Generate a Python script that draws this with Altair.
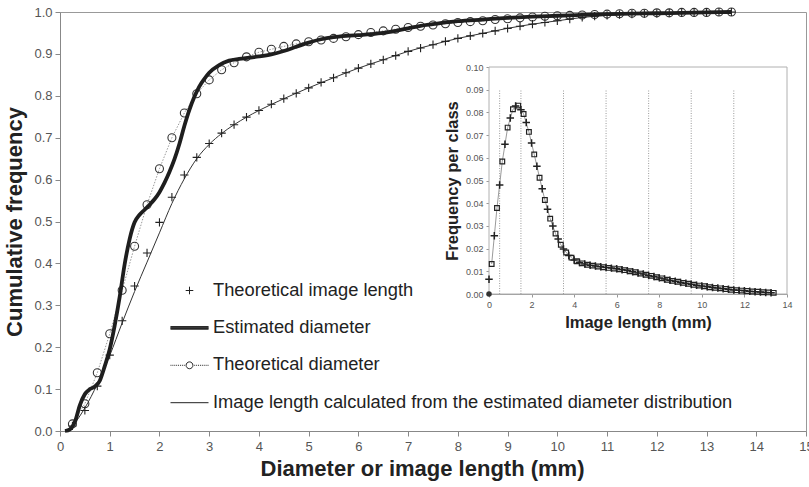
import altair as alt
import pandas as pd

FONT = "Liberation Sans"

# ---------------- main chart data ----------------
grid_x = [round(0.25 * k, 2) for k in range(1, 55)]  # 0.25 .. 13.5

theo_diam_y = [0.017, 0.065, 0.139, 0.232, 0.336, 0.441, 0.540, 0.626, 0.700, 0.759,
               0.805, 0.838, 0.862, 0.879, 0.893, 0.904, 0.911, 0.918, 0.924, 0.929,
               0.933, 0.937, 0.941, 0.946, 0.951, 0.955, 0.959, 0.963, 0.966, 0.969,
               0.972, 0.975, 0.977, 0.979, 0.982, 0.984, 0.986, 0.988, 0.990, 0.991,
               0.992, 0.993, 0.994, 0.995, 0.996, 0.997, 0.997, 0.998, 0.998, 0.999,
               0.999, 0.999, 1.000, 1.000]

theo_len_y = [0.012, 0.049, 0.107, 0.181, 0.263, 0.346, 0.425, 0.498, 0.558, 0.611,
              0.653, 0.686, 0.711, 0.731, 0.749, 0.765, 0.780, 0.793, 0.806, 0.819,
              0.832, 0.843, 0.855, 0.866, 0.876, 0.886, 0.896, 0.906, 0.914, 0.922,
              0.930, 0.937, 0.943, 0.949, 0.955, 0.961, 0.966, 0.971, 0.975, 0.979,
              0.983, 0.987, 0.990, 0.992, 0.994, 0.995, 0.996, 0.997, 0.998, 0.998,
              0.999, 0.999, 1.000, 1.000]

est_x = [0.1, 0.2, 0.3, 0.4, 0.5, 0.6, 0.7, 0.8, 0.9, 1.0, 1.1, 1.2, 1.3, 1.4, 1.5,
         1.6, 1.7, 1.8, 1.9, 2.0, 2.1, 2.2, 2.3, 2.4, 2.5, 2.6, 2.7, 2.8, 2.9, 3.0,
         3.2, 3.4, 3.6, 3.8, 4.0, 4.25, 4.5, 4.75, 5.0, 5.25, 5.5, 5.75, 6.0, 6.25,
         6.5, 6.75, 7.0, 7.25, 7.5, 7.75, 8.0, 8.5, 9.0, 9.5, 10.0, 10.5, 11.0, 11.5,
         12.0, 12.5, 13.0, 13.5]
est_y = [0.0, 0.004, 0.022, 0.062, 0.088, 0.100, 0.106, 0.120, 0.155, 0.195, 0.252,
         0.320, 0.398, 0.458, 0.498, 0.516, 0.528, 0.540, 0.553, 0.570, 0.592, 0.618,
         0.648, 0.685, 0.728, 0.766, 0.797, 0.822, 0.840, 0.855, 0.873, 0.884, 0.888,
         0.891, 0.894, 0.899, 0.907, 0.917, 0.927, 0.935, 0.940, 0.943, 0.945, 0.947,
         0.950, 0.955, 0.961, 0.967, 0.971, 0.975, 0.978, 0.982, 0.986, 0.989, 0.991,
         0.993, 0.995, 0.996, 0.997, 0.998, 0.999, 1.000]

calc_x = [0.1, 0.25, 0.5, 0.75, 1.0, 1.25, 1.5, 1.75, 2.0, 2.25, 2.5, 2.75, 3.0, 3.25,
          3.5, 3.75, 4.0, 4.5, 5.0, 5.5, 6.0, 6.5, 7.0, 7.5, 8.0, 8.5, 9.0, 9.5, 10.0,
          10.5, 11.0, 11.5, 12.0, 12.5, 13.0, 13.5]
calc_y = [0.0, 0.013, 0.055, 0.112, 0.180, 0.258, 0.333, 0.403, 0.473, 0.543, 0.602,
          0.650, 0.684, 0.710, 0.731, 0.749, 0.765, 0.793, 0.819, 0.843, 0.866, 0.886,
          0.906, 0.922, 0.937, 0.949, 0.961, 0.971, 0.979, 0.987, 0.992, 0.995, 0.997,
          0.998, 0.999, 1.000]

series_names = ["Theoretical image length", "Estimated diameter", "Theoretical diameter",
                "Image length calculated from the estimated diameter distribution"]

main_x_ticks = list(range(0, 16))
main_y_ticks = [0.0, 0.1, 0.2, 0.3, 0.4, 0.5, 0.6, 0.7, 0.8, 0.9, 1.0]

# ---------------- inset data ----------------
inset_cross_x = [round(0.25 * k, 3) for k in range(0, 54)]          # 0 .. 13.25
inset_cross_y = [0.0065, 0.0257, 0.0480, 0.0660, 0.0775, 0.0828, 0.0812, 0.0755, 0.0665,
                 0.0563, 0.0464, 0.0373, 0.0300, 0.0242, 0.0198, 0.0170, 0.0150, 0.0139,
                 0.0132, 0.0127, 0.0123, 0.0120, 0.0117, 0.0114, 0.0111, 0.0107, 0.0103,
                 0.0098, 0.0093, 0.0088, 0.0082, 0.0077, 0.0071, 0.0066, 0.0061, 0.0056,
                 0.0051, 0.0047, 0.0043, 0.0039, 0.0035, 0.0032, 0.0029, 0.0026, 0.0023,
                 0.0021, 0.0018, 0.0016, 0.0014, 0.0012, 0.0010, 0.0009, 0.0007, 0.0006]
inset_square_x = [round(0.125 + 0.25 * k, 3) for k in range(0, 54)]  # 0.125 .. 13.375
inset_square_y = [0.0132, 0.0379, 0.0584, 0.0733, 0.0814, 0.0830, 0.0793, 0.0714, 0.0615,
                  0.0512, 0.0414, 0.0332, 0.0266, 0.0217, 0.0183, 0.0160, 0.0144, 0.0135,
                  0.0129, 0.0125, 0.0121, 0.0118, 0.0115, 0.0112, 0.0109, 0.0105, 0.0100,
                  0.0096, 0.0090, 0.0085, 0.0080, 0.0074, 0.0069, 0.0063, 0.0058, 0.0054,
                  0.0049, 0.0045, 0.0041, 0.0037, 0.0034, 0.0030, 0.0027, 0.0025, 0.0022,
                  0.0019, 0.0017, 0.0015, 0.0013, 0.0011, 0.0010, 0.0008, 0.0007, 0.0005]
inset_origin_x = [0.0]
inset_origin_y = [0.0]
inset_grid_x = [0.5, 1.5, 3.5, 5.5, 7.5, 9.5, 11.5]
inset_grid_top = 0.09
inset_x_domain = [0, 14]
inset_y_domain = [0, 0.1]
inset_x_ticks = [0, 2, 4, 6, 8, 10, 12, 14]
inset_y_ticks = [0.0, 0.01, 0.02, 0.03, 0.04, 0.05, 0.06, 0.07, 0.08, 0.09, 0.1]

# ---------------- frames ----------------
df_theo_diam = pd.DataFrame({"x": grid_x, "y": theo_diam_y})
df_theo_len = pd.DataFrame({"x": grid_x, "y": theo_len_y, "series": series_names[0]})
df_est = pd.DataFrame({"x": est_x, "y": est_y})
df_calc = pd.DataFrame({"x": calc_x, "y": calc_y})

df_icross = pd.DataFrame({"x": inset_cross_x, "y": inset_cross_y})
df_isq = pd.DataFrame({"x": inset_square_x, "y": inset_square_y})
df_iorig = pd.DataFrame({"x": inset_origin_x, "y": inset_origin_y})
df_igrid = pd.DataFrame({"x": inset_grid_x, "y0": [0.0] * len(inset_grid_x),
                         "y1": [inset_grid_top] * len(inset_grid_x)})
df_iframe = pd.DataFrame({"x0": [inset_x_domain[0]], "x1": [inset_x_domain[1]],
                          "y0": [inset_y_domain[0]], "y1": [inset_y_domain[1]]})

# ---------------- legend symbols (custom paths) ----------------
plus_small = "M-0.2,0H0.2M0,-0.2V0.2"
thick_line = "M-1,-0.07H1M-1,-0.035H1M-1,0H1M-1,0.035H1M-1,0.07H1"
dots = "".join(f"M{a:.2f},0H{a + 0.05:.2f}" for a in [-1.0 + 0.1 * i for i in range(8)])
dots += "".join(f"M{a:.2f},0H{a + 0.05:.2f}" for a in [0.25 + 0.1 * i for i in range(8)])
circle_dotted = dots + "M0.18,0A0.18,0.18 0 1,1 -0.18,0A0.18,0.18 0 1,1 0.18,0"
thin_line = "M-1,0H1"
legend_shapes = [plus_small, thick_line, circle_dotted, thin_line]

# ---------------- scales / axes ----------------
W, H = 746, 419
main_xs = alt.Scale(domain=[0, 15], nice=False, zero=False)
main_ys = alt.Scale(domain=[0, 1], nice=False)
main_xa = alt.Axis(values=main_x_ticks, title="Diameter or image length (mm)", grid=False,
                   labelFontSize=13, labelColor="#555", labelFont=FONT, labelFlush=False,
                   tickSize=5, tickColor="#888", domainColor="#888", labelPadding=4,
                   titleFont=FONT, titleFontSize=22, titleFontWeight="bold", titleColor="#222",
                   titlePadding=5, titleX=362, orient="bottom")
main_ya = alt.Axis(values=main_y_ticks, format=".1f", title="Cumulative frequency", grid=False,
                   labelFontSize=13, labelColor="#555", labelFont=FONT, labelFlush=False,
                   tickSize=5, tickColor="#888", domainColor="#888", labelPadding=3,
                   titleFont=FONT, titleFontSize=22, titleFontWeight="bold", titleColor="#222",
                   titlePadding=7, orient="left")

ix0 = 489 - 60
ix1 = 787 - 60
iy0 = 294 - 12
iy1 = 67 - 12
in_xs = alt.Scale(domain=inset_x_domain, range=[ix0, ix1], nice=False, zero=False)
in_ys = alt.Scale(domain=inset_y_domain, range=[iy0, iy1], nice=False, zero=False)
in_xa = alt.Axis(values=inset_x_ticks, title="Image length (mm)", orient="bottom",
                 offset=-(H - iy0), grid=False, labelFontSize=9, labelColor="#555",
                 labelFont=FONT, labelFlush=False, tickSize=3, tickColor="#999",
                 domainColor="#999", labelPadding=3, titleFont=FONT, titleFontSize=16.5,
                 titleFontWeight="bold", titleColor="#222", titlePadding=5)
in_ya = alt.Axis(values=inset_y_ticks, format=".2f", title="Frequency per class", orient="left",
                 offset=-ix0, grid=False, labelFontSize=9, labelColor="#555",
                 labelFont=FONT, labelFlush=False, tickSize=3, tickColor="#999",
                 domainColor="#999", labelPadding=3, titleFont=FONT, titleFontSize=16.5,
                 titleFontWeight="bold", titleColor="#222", titlePadding=5)


def mx(f="x"):
    return alt.X(f"{f}:Q", scale=main_xs, axis=main_xa)


def my(f="y"):
    return alt.Y(f"{f}:Q", scale=main_ys, axis=main_ya)


def ixe(f="x"):
    return alt.X(f"{f}:Q", scale=in_xs, axis=in_xa)


def iye(f="y"):
    return alt.Y(f"{f}:Q", scale=in_ys, axis=in_ya)


# ---------------- main layers ----------------
dotted = alt.Chart(df_theo_diam).mark_line(color="#9a9a9a", strokeWidth=1,
                                            strokeDash=[1.5, 1.5]).encode(x=mx(), y=my())
circles = alt.Chart(df_theo_diam).mark_point(shape="circle", size=64, filled=False,
                                             color="#333", strokeWidth=1.1,
                                             opacity=1).encode(x=mx(), y=my())
calc_line = alt.Chart(df_calc).mark_line(color="#333", strokeWidth=1,
                                         interpolate="monotone").encode(x=mx(), y=my())
est_line = alt.Chart(df_est).mark_line(color="#1e1e1e", strokeWidth=3.8,
                                       interpolate="monotone").encode(x=mx(), y=my())
crosses = alt.Chart(df_theo_len).mark_point(size=1700, filled=False, color="#222",
                                            strokeWidth=1.1, opacity=1).encode(
    x=mx(), y=my(),
    shape=alt.Shape("series:N",
                    scale=alt.Scale(domain=series_names, range=legend_shapes),
                    legend=alt.Legend(title=None, orient="none", legendX=110, legendY=259,
                                      symbolSize=1444, symbolStrokeWidth=1,
                                      symbolStrokeColor="#222",
                                      symbolFillColor="transparent",
                                      labelFont=FONT, labelFontSize=18.3, labelColor="#222",
                                      labelOffset=4, rowPadding=9.4, padding=0,
                                      labelLimit=700, direction="vertical")))

main = alt.layer(dotted, circles, calc_line, crosses, est_line)

# ---------------- inset layers ----------------
frame = alt.Chart(df_iframe).mark_rect(fill="white", stroke="#b0b0b0", strokeWidth=1).encode(
    x=ixe("x0"), x2="x1", y=iye("y0"), y2="y1")
grid = alt.Chart(df_igrid).mark_rule(color="#9a9a9a", strokeWidth=1,
                                     strokeDash=[1, 1.5]).encode(x=ixe(), y=iye("y0"), y2="y1")
iline = alt.Chart(df_isq).mark_line(color="#9a9a9a", strokeWidth=1).encode(x=ixe(), y=iye())
isq = alt.Chart(df_isq).mark_point(shape="square", size=22, filled=False, color="#222",
                                   strokeWidth=1.2, opacity=1).encode(x=ixe(), y=iye())
icr = alt.Chart(df_icross).mark_point(shape="M-1,0H1M0,-1V1", size=56, filled=False,
                                      color="#222", strokeWidth=1.5,
                                      opacity=1).encode(x=ixe(), y=iye())
iorig = alt.Chart(df_iorig).mark_point(shape="circle", size=30, filled=True, color="#333",
                                       opacity=1).encode(x=ixe(), y=iye())

inset = alt.layer(frame, grid, iline, isq, icr, iorig)

chart = alt.layer(main, inset).resolve_scale(x="independent", y="independent").properties(
    width=W, height=H,
    autosize=alt.AutoSizeParams(type="none"),
    padding={"left": 60, "top": 12, "right": 3, "bottom": 487 - 12 - H},
    background="white",
).configure_view(stroke="#999", strokeWidth=1)

chart.save("out.html", embed_options={"renderer": "svg", "actions": False})
